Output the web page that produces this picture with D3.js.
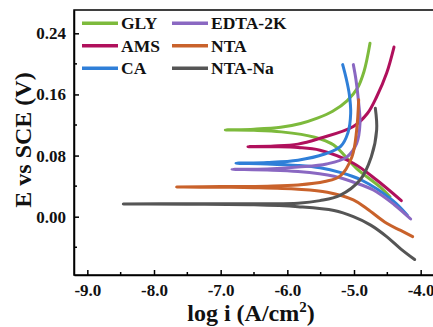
<!DOCTYPE html>
<html>
<head>
<meta charset="utf-8">
<script src="https://cdn.jsdelivr.net/npm/d3@7"></script>
<style>
  html, body { margin: 0; padding: 0; background: #fff; }
</style>
</head>
<body>
<div id="chart"></div>
<script>
const width = 433, height = 327;
const margins = { top: 10, right: -1, bottom: 52, left: 74 };
const serif = "'Liberation Serif', 'Times New Roman', Times, serif";

const seriesNames = ["GLY", "AMS", "CA", "EDTA-2K", "NTA", "NTA-Na"];
const seriesColors = ["#7dba3c", "#b0105c", "#2f7fd8", "#8a68c2", "#c9622b", "#555555"];

// each curve: cathodic end -> tip (Ecorr) -> anodic end, [log i, E]
const gly = [[-4.46, 0.026], [-4.61, 0.039], [-4.96, 0.063], [-5.31, 0.094], [-5.59, 0.104], [-6.09, 0.111], [-6.5, 0.113], [-6.93, 0.1135],
  [-6.5, 0.1145], [-6.1, 0.117], [-5.8, 0.122], [-5.55, 0.129], [-5.32, 0.138], [-5.1, 0.152], [-4.95, 0.168], [-4.85, 0.190], [-4.76, 0.227]];
const ams = [[-4.29, 0.021], [-4.66, 0.048], [-5.01, 0.070], [-5.51, 0.087], [-5.84, 0.0905], [-6.2, 0.0915], [-6.59, 0.0917],
  [-6.2, 0.0925], [-5.84, 0.095], [-5.51, 0.1026], [-5.01, 0.118], [-4.8, 0.135], [-4.66, 0.157], [-4.51, 0.188], [-4.40, 0.222]];
const ca = [[-4.2, 0.002], [-4.43, 0.022], [-4.89, 0.048], [-5.21, 0.058], [-5.51, 0.064], [-5.84, 0.067], [-6.3, 0.069], [-6.77, 0.070],
  [-6.3, 0.071], [-5.84, 0.074], [-5.44, 0.082], [-5.2, 0.092], [-5.09, 0.110], [-5.05, 0.135], [-5.07, 0.160], [-5.12, 0.182], [-5.17, 0.199]];
const edta = [[-4.15, -0.003], [-4.4, 0.016], [-4.71, 0.035], [-5.0, 0.045], [-5.3, 0.053], [-5.84, 0.059], [-6.3, 0.061], [-6.83, 0.062],
  [-6.3, 0.0625], [-5.84, 0.065], [-5.41, 0.069], [-5.11, 0.078], [-4.96, 0.096], [-4.91, 0.122], [-4.93, 0.149], [-4.97, 0.179], [-5.01, 0.199]];
const nta = [[-4.12, -0.026], [-4.3, -0.018], [-4.51, -0.0087], [-4.8, 0.010], [-5.01, 0.022], [-5.4, 0.032], [-5.84, 0.036], [-6.5, 0.038], [-7.0, 0.0385], [-7.66, 0.039],
  [-7.0, 0.0395], [-6.3, 0.040], [-5.84, 0.0415], [-5.44, 0.046], [-5.21, 0.053], [-5.03, 0.0785], [-4.96, 0.1135], [-4.93, 0.153]];
const ntaNa = [[-4.09, -0.056], [-4.3, -0.042], [-4.51, -0.026], [-4.75, -0.011], [-5.01, 0.0], [-5.3, 0.008], [-5.84, 0.013], [-6.5, 0.0155], [-7.5, 0.0163], [-8.46, 0.0166],
  [-7.5, 0.017], [-6.5, 0.017], [-5.84, 0.0175], [-5.51, 0.021], [-5.21, 0.028], [-4.91, 0.048], [-4.74, 0.0785], [-4.66, 0.1135], [-4.68, 0.142]];
const seriesData = [gly, ams, ca, edta, nta, ntaNa];

const xTicks = [-9, -8, -7, -6, -5, -4];
const xMinor = [-8.5, -7.5, -6.5, -5.5, -4.5];
const yTicks = [0, 0.08, 0.16, 0.24];
const yMinor = [-0.04, 0.04, 0.12, 0.20];

const svg = d3.select("#chart")
    .append("svg")
    .attr("width", width)
    .attr("height", height);

const x = d3.scaleLinear()
    .domain([-9.2, -3.8])
    .range([margins.left, width - margins.right]);
const y = d3.scaleLinear()
    .domain([-0.0763, 0.2705])
    .range([height - margins.bottom, margins.top]);

const fmtX = v => d3.format(".1f")(v).replace("\u2212", "-");
const fmtY = v => d3.format(".2f")(v).replace("\u2212", "-");

const line = d3.line()
    .x(d => x(d[0]))
    .y(d => y(d[1]))
    .curve(d3.curveCatmullRom.alpha(0.5));

const plot = svg.append("g");
plot.selectAll(".curve")
    .data(seriesData)
    .join("path")
    .attr("class", "curve")
    .attr("d", line)
    .attr("fill", "none")
    .attr("stroke", (d, i) => seriesColors[i])
    .attr("stroke-width", 3)
    .attr("stroke-linecap", "round")
    .attr("stroke-linejoin", "round");

// axes, ticks pointing inward
const xAxis = svg.append("g")
    .attr("transform", `translate(0,${height - margins.bottom})`)
    .call(d3.axisBottom(x).tickValues(xTicks).tickSizeInner(-5).tickSizeOuter(0).tickPadding(9).tickFormat(fmtX));
xAxis.append("g").selectAll("line")
    .data(xMinor).join("line")
    .attr("x1", d => x(d)).attr("x2", d => x(d))
    .attr("y1", 0).attr("y2", -3)
    .attr("stroke", "#000").attr("stroke-width", 1.5);

const yAxis = svg.append("g")
    .attr("transform", `translate(${margins.left},0)`)
    .call(d3.axisLeft(y).tickValues(yTicks).tickSizeInner(-5).tickSizeOuter(0).tickPadding(8).tickFormat(fmtY));
yAxis.append("g").selectAll("line")
    .data(yMinor).join("line")
    .attr("y1", d => y(d)).attr("y2", d => y(d))
    .attr("x1", 0).attr("x2", 3)
    .attr("stroke", "#000").attr("stroke-width", 1.5);

svg.selectAll(".domain").attr("stroke", "#000").attr("stroke-width", 1.5);
svg.selectAll(".tick line").attr("stroke", "#000").attr("stroke-width", 1.5);
svg.selectAll(".tick text")
    .attr("fill", "#111")
    .style("font-family", serif)
    .style("font-weight", "bold")
    .style("font-size", "17px");

// frame
svg.append("rect")
    .attr("x", margins.left)
    .attr("y", margins.top)
    .attr("width", width - margins.right - margins.left)
    .attr("height", height - margins.bottom - margins.top)
    .attr("fill", "none")
    .attr("stroke", "#000")
    .attr("stroke-width", 1.5);

// axis titles
const xTitle = svg.append("text")
    .attr("x", 251)
    .attr("y", 321)
    .attr("text-anchor", "middle")
    .style("font-family", serif)
    .style("font-weight", "bold")
    .style("font-size", "24px")
    .attr("fill", "#111");
xTitle.append("tspan").text("log i (A/cm");
xTitle.append("tspan").attr("dy", -9).style("font-size", "15px").text("2");
xTitle.append("tspan").attr("dy", 9).text(")");

svg.append("text")
    .attr("transform", "translate(31,140) rotate(-90)")
    .attr("text-anchor", "middle")
    .style("font-family", serif)
    .style("font-weight", "bold")
    .style("font-size", "24px")
    .attr("fill", "#111")
    .text("E vs SCE (V)");

// legend, two columns
const legend = svg.append("g")
    .selectAll("g")
    .data(seriesNames)
    .join("g")
    .attr("transform", (d, i) => `translate(${i < 3 ? 82 : 172},${23.3 + (i % 3) * 22.5})`);
legend.append("line")
    .attr("x1", 0).attr("x2", 36)
    .attr("stroke", (d, i) => seriesColors[i])
    .attr("stroke-width", 3.5);
legend.append("text")
    .attr("x", 39)
    .attr("y", 6)
    .style("font-family", serif)
    .style("font-weight", "bold")
    .style("font-size", "17.5px")
    .attr("fill", "#111")
    .text(d => d);
</script>
</body>
</html>
